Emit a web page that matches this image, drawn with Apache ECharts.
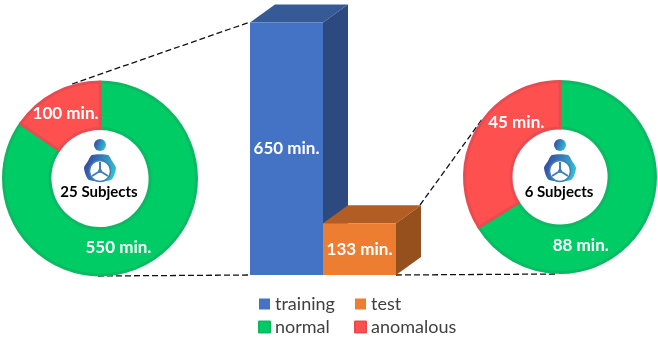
<!DOCTYPE html>
<html>
<head>
<meta charset="utf-8">
<style>
  html, body { margin: 0; padding: 0; background: #fff; }
  #chart { width: 658px; height: 340px; }
</style>
<script src="https://cdn.jsdelivr.net/npm/echarts@6/dist/echarts.min.js"></script>
</head>
<body>
<div id="chart"></div>
<script>
const splitNames = ["training", "test"];
const splitMinutes = [650, 133];
const classNames = ["normal", "anomalous"];
const trainingMinutes = [550, 100];
const testMinutes = [88, 45];
const subjectLabels = ["25 Subjects", "6 Subjects"];

const fontName = "Lato";
const depthX = 25;
const depthY = -18;

const barColors = {
  training: { front: "#4472c4", top: "#355a96", side: "#2c4a80" },
  test: { front: "#ed7d31", top: "#b15d23", side: "#96501d" },
};
const classStyle = [
  { color: "#00cc66", borderColor: "#0cb963", borderWidth: 3 },
  { color: "#ff5050", borderColor: "#e84c50", borderWidth: 3 },
];

// front face plus the fake 3D top and side
function renderBlock(params, api) {
  const name = params.seriesName;
  const colors = barColors[name];
  const top = api.coord([api.value(0), api.value(1)]);
  const base = api.coord([api.value(0), 0]);
  const w = api.size([1, 0])[0];
  const x0 = top[0] - w / 2;
  const x1 = top[0] + w / 2;
  const y0 = top[1];
  const y1 = base[1];
  return {
    type: "group",
    children: [
      {
        type: "polygon",
        shape: { points: [[x0, y0], [x0 + depthX, y0 + depthY], [x1 + depthX, y0 + depthY], [x1, y0]] },
        style: { fill: colors.top },
      },
      {
        type: "polygon",
        shape: { points: [[x1, y0], [x1 + depthX, y0 + depthY], [x1 + depthX, y1 + depthY], [x1, y1]] },
        style: { fill: colors.side },
      },
      {
        type: "rect",
        shape: { x: x0, y: y0, width: w, height: y1 - y0 },
        style: { fill: colors.front },
      },
      {
        type: "text",
        style: {
          text: api.value(1) + " min.",
          x: top[0],
          y: (y0 + y1) / 2,
          align: "center",
          verticalAlign: "middle",
          fill: "#fff",
          font: "bold 17px " + fontName,
        },
      },
    ],
  };
}

function pieSeries(values, center, radius, offsets) {
  return {
    type: "pie",
    center: center,
    radius: radius,
    startAngle: 90,
    clockwise: true,
    silent: true,
    labelLine: { show: false },
    labelLayout: (p) => ({ dx: offsets[p.dataIndex][0], dy: offsets[p.dataIndex][1] }),
    data: values.map((v, i) => ({
      name: classNames[i],
      value: v,
      itemStyle: classStyle[i],
      label: {
        show: true,
        position: "inside",
        formatter: "{c} min.",
        color: "#fff",
        fontFamily: fontName,
        fontWeight: "bold",
        fontSize: 17,
      },
    })),
  };
}

function dashLine(x1, y1, x2, y2) {
  return {
    type: "line",
    z: 0,
    shape: { x1, y1, x2, y2 },
    style: { stroke: "#111", lineWidth: 1.3, lineDash: [6, 3] },
  };
}

// driver icon in the donut hole
function driverIcon(cx) {
  const grad = new echarts.graphic.LinearGradient(0, 0, 1, 0.4, [
    { offset: 0, color: "#3b3a9c" },
    { offset: 1, color: "#2fbcd0" },
  ]);
  const wheelColor = "#3f7fb8";
  const spoke = (x2, y2) => ({
    type: "line",
    z: 12,
    shape: { x1: cx, y1: 171, x2: cx + x2, y2: 171 + y2 },
    style: { stroke: wheelColor, lineWidth: 2 },
  });
  return [
    { type: "circle", z: 10, shape: { cx: cx, cy: 145, r: 6 }, style: { fill: grad } },
    {
      type: "polygon",
      z: 10,
      shape: {
        smooth: 0.25,
        points: [
          [cx - 8, 155], [cx + 8, 155], [cx + 12, 161], [cx + 16, 168], [cx + 11, 180],
          [cx - 11, 180], [cx - 16, 168], [cx - 12, 161],
        ],
      },
      style: { fill: grad },
    },
    { type: "circle", z: 11, shape: { cx: cx, cy: 171, r: 10.5 }, style: { fill: "#fff", stroke: wheelColor, lineWidth: 1.5 } },
    spoke(0, -9), spoke(-8, 5), spoke(8, 5),
    { type: "circle", z: 13, shape: { cx: cx, cy: 171, r: 2 }, style: { fill: wheelColor } },
  ];
}

function subjectText(text, cx) {
  return {
    type: "text",
    z: 14,
    style: {
      text: text,
      x: cx,
      y: 192,
      align: "center",
      verticalAlign: "middle",
      fill: "#000",
      font: "bold 15px " + fontName,
    },
  };
}

const legendCommon = {
  orient: "vertical",
  top: 294,
  padding: 0,
  icon: "rect",
  itemWidth: 11,
  itemHeight: 11,
  itemGap: 3,
  selectedMode: false,
  textStyle: { fontFamily: fontName, fontSize: 18, color: "#404040", lineHeight: 20 },
};

const chart = echarts.init(document.getElementById("chart"));
chart.setOption({
  animation: false,
  backgroundColor: "#fff",
  grid: { left: 250, top: 22.5, width: 146, height: 252.5, containLabel: false },
  xAxis: { type: "category", data: splitNames, show: false },
  yAxis: { type: "value", min: 0, max: 650, show: false },
  legend: [
    Object.assign({}, legendCommon, { left: 258, data: [splitNames[0], classNames[0]] }),
    Object.assign({}, legendCommon, { left: 354, data: [splitNames[1], classNames[1]] }),
  ],
  series: [
    {
      name: splitNames[0],
      type: "custom",
      renderItem: renderBlock,
      clip: false,
      silent: true,
      itemStyle: { color: barColors.training.front },
      encode: { x: 0, y: 1 },
      data: [[0, splitMinutes[0]]],
    },
    {
      name: splitNames[1],
      type: "custom",
      renderItem: renderBlock,
      clip: false,
      silent: true,
      itemStyle: { color: barColors.test.front },
      encode: { x: 0, y: 1 },
      data: [[1, splitMinutes[1]]],
    },
    pieSeries(trainingMinutes, [100, 178.5], [50, 96.5], [[-17, 1], [1, 3]]),
    pieSeries(testMinutes, [560, 177], [49, 95.5], [[-45, 32], [22, -18]]),
  ],
  graphic: [
    dashLine(72, 84, 250, 22),
    dashLine(98, 276, 250, 275),
    dashLine(420, 205, 483, 118),
    dashLine(396, 275, 558, 274),
    ...driverIcon(100),
    ...driverIcon(560),
    subjectText(subjectLabels[0], 99),
    subjectText(subjectLabels[1], 559),
  ],
});
</script>
</body>
</html>
